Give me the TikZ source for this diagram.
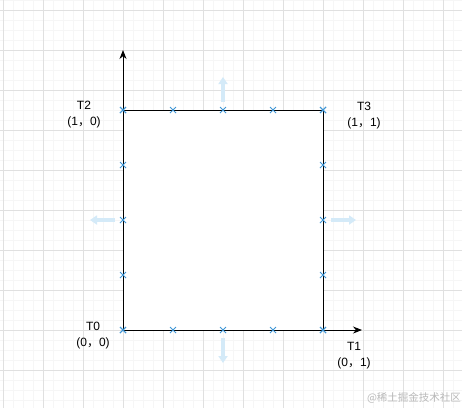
\documentclass[tikz,border=0pt]{standalone}
\usepackage{fontspec}
\setmainfont{Liberation Sans}
\newfontfamily\cjk{Noto Sans CJK SC}
\usepackage{xcolor}
\usepackage{tikz}
\usetikzlibrary{shapes,shapes.misc,arrows.meta,positioning,calc}

\definecolor{gridmajor}{RGB}{224,224,224}
\definecolor{gridminor}{RGB}{246,246,246}
\definecolor{pointblue}{RGB}{62,150,214}
\definecolor{hoverblue}{RGB}{212,234,248}

\tikzset{
  majorline/.style={draw=gridmajor, line width=0.8pt},
  minorline/.style={draw=gridminor, line width=0.6pt},
  square/.style={draw=black, fill=white, line width=1pt},
  axis/.style={draw=black, line width=1pt, -{Stealth[length=9pt,width=7pt]}},
  cpmark/.style={cross out, draw=pointblue, line width=1pt, minimum size=5pt, inner sep=0pt},
  hover/.style={draw=hoverblue, line width=3.5pt, -{Triangle[length=7pt,width=9pt]}},
  corner/.style={align=center, font=\fontsize{12}{16}\selectfont, inner sep=0pt},
}

\begin{document}
\begin{tikzpicture}[x=1pt, y=-1pt]
    \useasboundingbox (0,0) rectangle (462,408);
    \fill[white] (0,0) rectangle (462,408);
    % grid
    \foreach \x in {3,13,...,463} \draw[minorline] (\x,0) -- (\x,408);
    \foreach \y in {0,10,...,410} \draw[minorline] (0,\y) -- (462,\y);
    \foreach \x in {3,43,...,463} \draw[majorline] (\x,0) -- (\x,408);
    \foreach \y in {10,50,...,410} \draw[majorline] (0,\y) -- (462,\y);

    \coordinate (o) at (123,330);
    \coordinate (c1) at (323,330);
    \coordinate (c2) at (123,110);
    \coordinate (c3) at (323,110);
    \coordinate (xend) at (362,330);
    \coordinate (yend) at (123,50);

    \draw[square] (o) rectangle (c3);
    \draw[axis] (o) -- (xend);
    \draw[axis] (o) -- (yend);

    % connection points
    \foreach \i in {0,...,4} {
        \node (mt\i) [cpmark] at ($(c2)+(50*\i,0)$) {};
        \node (mb\i) [cpmark] at ($(o)+(50*\i,0)$) {};
        \node (ml\i) [cpmark] at ($(c2)+(0,55*\i)$) {};
        \node (mr\i) [cpmark] at ($(c3)+(0,55*\i)$) {};
    }

    % hover arrows
    \draw[hover] (223,102) -- (223,77);
    \draw[hover] (223,338) -- (223,363);
    \draw[hover] (115,220) -- (90,220);
    \draw[hover] (331,220) -- (356,220);

    \node (t0) [corner] at (93,335.5) {T0\\(0{\cjk ，}0)};
    \node (t1) [corner] at (354,355.5) {T1\\(0{\cjk ，}1)};
    \node (t2) [corner] at (84,115) {T2\\(1{\cjk ，}0)};
    \node (t3) [corner] at (364,115.5) {T3\\(1{\cjk ，}1)};

    \node (mark) [text=gray!55, font=\cjk\fontsize{10.5}{12}\selectfont, inner sep=0pt] at (414,398) {@稀土掘金技术社区};
\end{tikzpicture}
\end{document}
